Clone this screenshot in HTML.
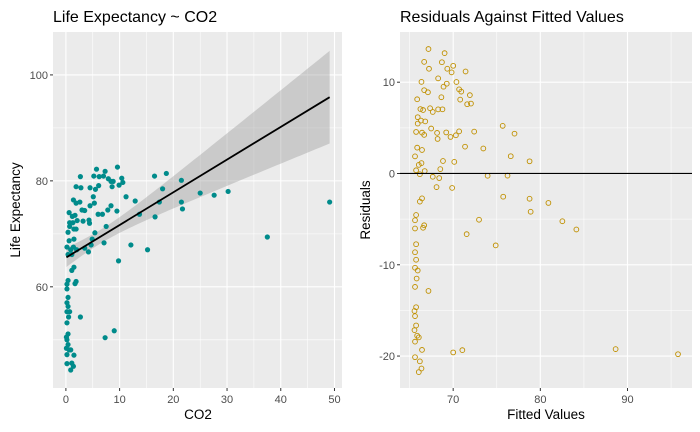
<!DOCTYPE html>
<html><head><meta charset="utf-8">
<style>
html,body{margin:0;padding:0;background:#fff;}
svg{display:block;font-family:"Liberation Sans",Arial,sans-serif;}
</style></head>
<body>
<svg id="chart" width="700" height="432" viewBox="0 0 700 432">
  <text x="53" y="22" font-size="16" fill="#000">Life Expectancy ~ CO2</text>
  <text x="400" y="22" font-size="16" fill="#000">Residuals Against Fitted Values</text>
  <g id="left"></g>
  <g id="right"></g>
  <text x="198" y="419" font-size="13.5" text-anchor="middle" fill="#000">CO2</text>
  <text transform="translate(20,210) rotate(-90)" font-size="13.5" text-anchor="middle" fill="#000">Life Expectancy</text>
  <text x="546" y="419" font-size="13.5" text-anchor="middle" fill="#000">Fitted Values</text>
  <text transform="translate(370,210) rotate(-90)" font-size="13.5" text-anchor="middle" fill="#000">Residuals</text>
</svg>
<script>
const co2 = [5.7,7.3,9.6,2.7,5.2,6.2,7.0,7.9,8.4,8.8,10.4,10.6,9.9,8.6,6.1,4.5,2.8,1.9,5.5,5.1,11.2,12.9,16.5,18.7,21.5,18.0,17.4,21.5,21.7,25.0,27.6,30.2,49.1,37.5,13.7,16.6,12.1,15.2,9.8,9.0,7.3,2.7,7.1,5.4,4.9,4.2,4.7,7.8,8.4,9.5,7.5,6.8,6.0,5.3,4.5,3.5,3.0,1.9,1.4,2.6,0.6,1.2,1.7,0.7,1.3,2.1,3.2,4.4,4.3,0.7,1.5,0.4,1.9,0.6,1.5,0.2,0.9,0.4,1.1,1.4,2.0,3.5,1.5,1.1,1.9,1.7,0.4,0.2,0.2,0.4,0.2,0.4,0.2,0.7,0.5,0.2,0.4,0.1,0.2,0.4,0.1,0.6,0.9,0.2,1.5,0.2,1.1,1.4,0.9];
const lifeExp = [82.2,81.8,82.6,80.8,80.9,80.8,80.9,80.4,79.9,79.9,80.5,79.7,79.2,78.9,79.1,78.7,78.7,78.9,78.4,77.0,77.0,76.2,80.9,81.4,80.1,78.5,76.0,76.0,74.7,77.7,77.3,78.0,76.0,69.4,73.7,73.2,67.9,67.0,64.9,51.7,50.4,54.3,68.3,70.2,69.0,66.6,67.9,74.5,75.3,74.3,71.4,73.7,73.7,75.8,75.3,74.4,74.5,75.8,76.4,76.0,74.0,73.3,73.5,72.1,72.1,72.5,72.4,72.0,72.6,71.4,70.9,70.3,70.9,68.7,69.0,67.5,67.0,66.1,66.1,67.5,67.0,67.3,63.7,63.1,61.0,60.6,61.2,60.5,59.6,58.0,57.0,56.3,55.3,55.3,54.3,53.2,51.1,50.5,50.0,49.1,48.4,48.1,48.1,47.2,47.1,45.5,45.6,45.0,44.3];
const fitIntercept = 65.5;
const fitSlope = 0.617;
const xTicksL = [0,10,20,30,40,50];
const yTicksL = [60,80,100];
const xTicksR = [70,80,90];
const yTicksR = [-20,-10,0,10];

const NS='http://www.w3.org/2000/svg';
function mk(parent,tag,attrs){const e=document.createElementNS(NS,tag);for(const k in attrs)e.setAttribute(k,attrs[k]);parent.appendChild(e);return e;}

function panel(g,box,xd,yd,xt,yt,xminor,yminor,prefix){
  const sx=v=>box.x0+(v-xd[0])/(xd[1]-xd[0])*(box.x1-box.x0);
  const sy=v=>box.y1-(v-yd[0])/(yd[1]-yd[0])*(box.y1-box.y0);
  const bg=mk(g,'rect',{x:box.x0,y:box.y0,width:box.x1-box.x0,height:box.y1-box.y0,fill:'#ebebeb'});
  
  
  xminor.forEach(v=>{const l=mk(g,'line',{x1:sx(v),x2:sx(v),y1:box.y0,y2:box.y1,stroke:'#fff','stroke-width':0.55});});
  yminor.forEach(v=>{const l=mk(g,'line',{y1:sy(v),y2:sy(v),x1:box.x0,x2:box.x1,stroke:'#fff','stroke-width':0.55});});
  xt.forEach(v=>{
    const l=mk(g,'line',{x1:sx(v),x2:sx(v),y1:box.y0,y2:box.y1,stroke:'#fff','stroke-width':1.1});
    
    const t=mk(g,'line',{x1:sx(v),x2:sx(v),y1:box.y1,y2:box.y1+3,stroke:'#333','stroke-width':1});
    
    const tx=mk(g,'text',{x:sx(v),y:box.y1+15,'font-size':11,'text-anchor':'middle',fill:'#4d4d4d'});tx.textContent=v;
    
  });
  yt.forEach(v=>{
    const l=mk(g,'line',{y1:sy(v),y2:sy(v),x1:box.x0,x2:box.x1,stroke:'#fff','stroke-width':1.1});
    
    const t=mk(g,'line',{y1:sy(v),y2:sy(v),x1:box.x0-3,x2:box.x0,stroke:'#333','stroke-width':1});
    
    const tx=mk(g,'text',{x:box.x0-5,y:sy(v)+4,'font-size':11,'text-anchor':'end',fill:'#4d4d4d'});tx.textContent=v;
    
  });
  return {sx,sy};
}

// Left panel
const L=document.getElementById('left');
const lb={x0:53,x1:342,y0:32,y1:388};
const ls=panel(L,lb,[-2.4,51.4],[40.9,108.1],xTicksL,yTicksL,[5,15,25,35,45],[50,70,90],'left');
const xmax=Math.max(...co2), xmin=Math.min(...co2);
const meanX=co2.reduce((a,b)=>a+b,0)/co2.length;
const hw=x=>Math.sqrt(1.69+0.041*(x-meanX)*(x-meanX));
let up=[],lo=[];
for(let i=0;i<=80;i++){const x=xmin+(xmax-xmin)*i/80;const f=fitIntercept+fitSlope*x;up.push(ls.sx(x)+','+ls.sy(f+hw(x)));lo.unshift(ls.sx(x)+','+ls.sy(f-hw(x)));}
const band=mk(L,'polygon',{points:up.concat(lo).join(' '),fill:'#999','fill-opacity':0.4});


co2.forEach((c,i)=>{
  const p=mk(L,'circle',{cx:ls.sx(c),cy:ls.sy(lifeExp[i]),r:2.6,fill:'#008b8b'});
  
  
});
const fl=mk(L,'line',{x1:ls.sx(xmin),y1:ls.sy(fitIntercept+fitSlope*xmin),x2:ls.sx(xmax),y2:ls.sy(fitIntercept+fitSlope*xmax),stroke:'#000','stroke-width':1.8});



// Right panel
const R=document.getElementById('right');
const rb={x0:400,x1:692,y0:32,y1:388};
const rs=panel(R,rb,[63.9,97.4],[-23.5,15.5],xTicksR,yTicksR,[65,75,85,95],[-15,-5,5],'right');
co2.forEach((c,i)=>{
  const f=fitIntercept+fitSlope*c, r=lifeExp[i]-f;
  const p=mk(R,'circle',{cx:rs.sx(f),cy:rs.sy(r),r:2.4,fill:'none',stroke:'#c09000','stroke-width':0.9});
  
  
});
const zl=mk(R,'line',{x1:rb.x0,x2:rb.x1,y1:rs.sy(0),y2:rs.sy(0),stroke:'#000','stroke-width':1.1});


</script>
</body></html>
